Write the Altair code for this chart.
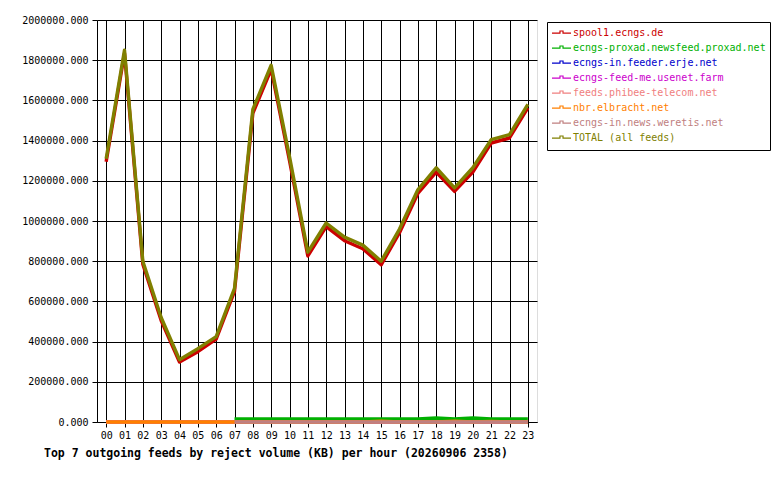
import altair as alt
import pandas as pd

hours = ["00", "01", "02", "03", "04", "05", "06", "07", "08", "09", "10", "11",
         "12", "13", "14", "15", "16", "17", "18", "19", "20", "21", "22", "23"]

feeds = [
    "spool1.ecngs.de",
    "ecngs-proxad.newsfeed.proxad.net",
    "ecngs-in.feeder.erje.net",
    "ecngs-feed-me.usenet.farm",
    "feeds.phibee-telecom.net",
    "nbr.elbracht.net",
    "ecngs-in.news.weretis.net",
    "TOTAL (all feeds)",
]
colors = ["#cc0000", "#00b000", "#0000cc", "#cc00cc", "#f08080", "#ff8000", "#c08080", "#808000"]

spool1 = [1295000, 1835000, 785000, 505000, 298000, 350000, 412000, 650000,
          1535000, 1755000, 1300000, 826000, 972000, 902000, 862000, 782000,
          942000, 1137000, 1243000, 1147000, 1243000, 1388000, 1413000, 1563000]
proxad = [None, None, None, None, None, None, None, 15000,
          15000, 15000, 15000, 15000, 15000, 15000, 15000, 15000,
          15000, 15000, 20000, 15000, 20000, 15000, 15000, 15000]
erje = [0] * 24
usenet = [0] * 24
phibee = [0] * 24
nbr = [0, 0, 0, 0, 0, 0, 0, 0, 0, 0, 0, 0, 0, 0, 0, 4000,
       0, 0, 0, 4000, 0, 3000, 0, 0]
weretis = [None, None, None, None, None, None, None, 0,
           0, 0, 0, 0, 0, 0, 0, 0, 0, 0, 0, 0, 0, 0, 0, 0]
total = [1310000, 1850000, 800000, 520000, 310000, 365000, 425000, 665000,
         1555000, 1775000, 1320000, 845000, 990000, 920000, 880000, 800000,
         960000, 1155000, 1265000, 1165000, 1265000, 1405000, 1430000, 1580000]

series = [spool1, proxad, erje, usenet, phibee, nbr, weretis, total]

rows = []
for order, (name, vals) in enumerate(zip(feeds, series)):
    for h, v in zip(hours, vals):
        if v is not None:
            rows.append({"feed": name, "hour": int(h), "value": v, "ord": order})
df = pd.DataFrame(rows)

MONO = "DejaVu Sans Mono"

legend = alt.Legend(
    title=None,
    orient="none",
    legendX=450,
    legendY=2,
    fillColor="white",
    strokeColor="black",
    padding=4,
    cornerRadius=0,
    symbolType="M-1,0H-0.16V-0.22H0.16V0H1",
    symbolSize=361,
    symbolStrokeWidth=1.2,
    symbolFillColor="transparent",
    clipHeight=14.2,
    rowPadding=0,
    labelOffset=1,
    labelFont=MONO,
    labelFontSize=10,
    labelLimit=400,
    labelColor={"expr": "scale('color', datum.value)"},
)

chart = alt.Chart(df).mark_line(strokeWidth=3.4, strokeJoin="round").encode(
    x=alt.X("hour:Q",
            scale=alt.Scale(domain=[-0.5, 23.5], nice=False, zero=False),
            axis=alt.Axis(values=list(range(24)), format="02d", title=None,
                          grid=True, gridColor="black", gridOpacity=1,
                          domainColor="black", tickColor="black", tickSize=5,
                          labelFont=MONO, labelFontSize=10, labelColor="black",
                          labelPadding=3, labelFlush=False, labelOverlap=False)),
    y=alt.Y("value:Q",
            scale=alt.Scale(domain=[0, 2000000], nice=False),
            axis=alt.Axis(values=list(range(0, 2000001, 200000)), format=".3f",
                          title=None, grid=True, gridColor="black", gridOpacity=1,
                          domainColor="black", tickColor="black", tickSize=5,
                          labelFont=MONO, labelFontSize=10, labelColor="black",
                          labelPadding=4)),
    color=alt.Color("feed:N", scale=alt.Scale(domain=feeds, range=colors),
                    legend=legend),
    detail="feed:N",
    order=alt.Order("ord:Q"),
).properties(
    width=440,
    height=402,
    autosize=alt.AutoSizeParams(type="none"),
    padding={"left": 89, "top": 12, "right": 235, "bottom": 50},
    title=alt.TitleParams(
        "Top 7 outgoing feeds by reject volume (KB) per hour (20260906 2358)",
        orient="bottom", anchor="start", frame="group", dx=-53, offset=8,
        font=MONO, fontSize=11.5, fontWeight="bold", color="black",
    ),
).configure_view(
    fill="#e0e0e0", stroke="black", strokeWidth=1,
).configure(background="white")

chart.save("out.html", embed_options={"renderer": "svg", "actions": False})
